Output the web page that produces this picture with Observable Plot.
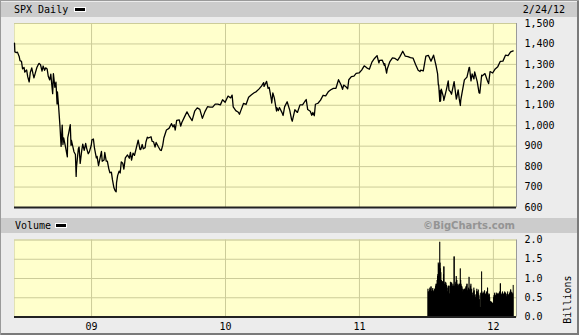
<!DOCTYPE html>
<html>
<head>
<meta charset="utf-8">
<script src="https://cdn.jsdelivr.net/npm/d3@7"></script>
<script src="https://cdn.jsdelivr.net/npm/@observablehq/plot@0.6"></script>
<style>
  html, body { margin: 0; padding: 0; background: #ececec; }
  #wrap { position: relative; width: 579px; height: 335px; background: #ececec; overflow: hidden;
          box-shadow: inset 1px 1px 0 #9a9a9a, inset -2px -2px 0 #7a7a7a; font-family: "DejaVu Sans Mono", monospace; }
  .band { position: absolute; left: 1px; width: 576px; height: 15px; background: #cccccc; line-height: 15px; font-size: 10px; color: #000; }
  .swatch { position: absolute; width: 10px; height: 3px; background: #000; border: 1px solid #fff; }
  .abs { position: absolute; }
</style>
</head>
<body>
<div id="wrap">
  <div class="band" style="top:2px;">
    <span class="abs" style="left:13px;">SPX Daily</span>
    <span class="swatch" style="left:73px; top:5px;"></span>
    <span class="abs" style="right:12px;">2/24/12</span>
  </div>
  <div class="band" style="top:218px;">
    <span class="abs" style="left:14px;">Volume</span>
    <span class="swatch" style="left:54px; top:5px;"></span>
    <span class="abs" style="right:62px; font-family:'DejaVu Sans'; font-weight:bold; color:#949494; font-size:10px;">©BigCharts.com</span>
  </div>
  <div id="price" class="abs" style="left:0; top:0;"></div>
  <div id="volume" class="abs" style="left:0; top:230px;"></div>
</div>
<script>
// ---- data ----
const xStart = "2008-06-05";
const xEnd = "2012-03-04";
const yearTicks = ["2009-01-01", "2010-01-01", "2011-01-01", "2012-01-01"];
const priceTicks = [600, 700, 800, 900, 1000, 1100, 1200, 1300, 1400, 1500];
const volumeTicks = [0, 0.5, 1.0, 1.5, 2.0];

const priceDates = [
"2008-06-05","2008-06-06","2008-06-10","2008-06-13","2008-06-18","2008-06-20","2008-06-24","2008-06-27",
"2008-07-01","2008-07-03","2008-07-08","2008-07-11","2008-07-15","2008-07-18","2008-07-22","2008-07-25","2008-07-28",
"2008-08-01","2008-08-05","2008-08-08","2008-08-11","2008-08-15","2008-08-19","2008-08-22","2008-08-26","2008-08-29",
"2008-09-02","2008-09-05","2008-09-09","2008-09-12","2008-09-15","2008-09-17","2008-09-19","2008-09-23","2008-09-26","2008-09-29","2008-09-30",
"2008-10-03","2008-10-07","2008-10-10","2008-10-13","2008-10-15","2008-10-17","2008-10-22","2008-10-24","2008-10-27","2008-10-28","2008-10-31",
"2008-11-04","2008-11-06","2008-11-07","2008-11-11","2008-11-14","2008-11-18","2008-11-20","2008-11-21","2008-11-26","2008-11-28",
"2008-12-01","2008-12-05","2008-12-08","2008-12-12","2008-12-16","2008-12-19","2008-12-23","2008-12-26","2008-12-31",
"2009-01-02","2009-01-06","2009-01-09","2009-01-14","2009-01-16","2009-01-20","2009-01-23","2009-01-28","2009-01-30",
"2009-02-04","2009-02-06","2009-02-10","2009-02-13","2009-02-17","2009-02-20","2009-02-24","2009-02-27",
"2009-03-03","2009-03-06","2009-03-09","2009-03-10","2009-03-13","2009-03-17","2009-03-20","2009-03-23","2009-03-27","2009-03-30",
"2009-04-03","2009-04-09","2009-04-14","2009-04-17","2009-04-20","2009-04-24","2009-04-28",
"2009-05-01","2009-05-08","2009-05-13","2009-05-15","2009-05-19","2009-05-22","2009-05-27","2009-05-29",
"2009-06-02","2009-06-05","2009-06-12","2009-06-15","2009-06-19","2009-06-23","2009-06-26",
"2009-07-02","2009-07-07","2009-07-10","2009-07-14","2009-07-17","2009-07-24","2009-07-31",
"2009-08-07","2009-08-11","2009-08-14","2009-08-17","2009-08-21","2009-08-28",
"2009-09-01","2009-09-04","2009-09-11","2009-09-18","2009-09-25",
"2009-10-02","2009-10-09","2009-10-16","2009-10-23","2009-10-30",
"2009-11-06","2009-11-13","2009-11-20","2009-11-27",
"2009-12-04","2009-12-11","2009-12-18","2009-12-24","2009-12-31",
"2010-01-08","2010-01-15","2010-01-19","2010-01-22","2010-01-29",
"2010-02-05","2010-02-08","2010-02-12","2010-02-19","2010-02-26",
"2010-03-05","2010-03-12","2010-03-19","2010-03-26",
"2010-04-02","2010-04-09","2010-04-15","2010-04-16","2010-04-23","2010-04-27","2010-04-30",
"2010-05-06","2010-05-07","2010-05-10","2010-05-14","2010-05-20","2010-05-21","2010-05-25","2010-05-28",
"2010-06-04","2010-06-07","2010-06-11","2010-06-18","2010-06-25","2010-06-30",
"2010-07-02","2010-07-09","2010-07-16","2010-07-23","2010-07-30",
"2010-08-06","2010-08-09","2010-08-13","2010-08-20","2010-08-24","2010-08-27","2010-08-31",
"2010-09-03","2010-09-10","2010-09-17","2010-09-24",
"2010-10-01","2010-10-08","2010-10-15","2010-10-22","2010-10-29",
"2010-11-05","2010-11-12","2010-11-16","2010-11-19","2010-11-26","2010-11-30",
"2010-12-03","2010-12-10","2010-12-17","2010-12-23","2010-12-31",
"2011-01-07","2011-01-14","2011-01-21","2011-01-28",
"2011-02-04","2011-02-11","2011-02-18","2011-02-23","2011-02-25",
"2011-03-04","2011-03-10","2011-03-11","2011-03-16","2011-03-18","2011-03-25",
"2011-04-01","2011-04-08","2011-04-15","2011-04-21","2011-04-29",
"2011-05-06","2011-05-13","2011-05-20","2011-05-27",
"2011-06-03","2011-06-10","2011-06-15","2011-06-17","2011-06-24",
"2011-07-01","2011-07-08","2011-07-15","2011-07-22","2011-07-29",
"2011-08-02","2011-08-04","2011-08-05","2011-08-08","2011-08-09","2011-08-10","2011-08-12","2011-08-18","2011-08-19","2011-08-26","2011-08-31",
"2011-09-02","2011-09-06","2011-09-09","2011-09-16","2011-09-22","2011-09-23","2011-09-27","2011-09-30",
"2011-10-03","2011-10-04","2011-10-07","2011-10-14","2011-10-21","2011-10-27","2011-10-28",
"2011-11-01","2011-11-04","2011-11-09","2011-11-11","2011-11-18","2011-11-23","2011-11-25","2011-11-30",
"2011-12-02","2011-12-09","2011-12-16","2011-12-19","2011-12-23","2011-12-30",
"2012-01-06","2012-01-13","2012-01-20","2012-01-27",
"2012-02-03","2012-02-10","2012-02-17","2012-02-24"
];
const priceCloses = [
1404,1361,1358,1360,1337,1318,1315,1278,
1285,1262,1273,1240,1214,1260,1283,1257,1234,
1260,1285,1296,1305,1298,1267,1292,1271,1283,
1277,1242,1224,1252,1193,1157,1255,1188,1213,1106,1166,
1099,996,899,1003,908,940,896,877,848,941,968,
1005,904,930,898,873,859,752,800,887,896,
816,876,910,879,913,887,863,872,903,
931,935,890,843,850,805,832,874,826,
832,869,827,827,789,770,773,735,
696,683,677,720,756,778,769,823,816,788,
843,857,841,870,832,866,855,
877,929,884,883,908,887,893,919,
944,940,946,924,921,895,918,
897,881,879,905,940,979,987,
1010,994,1005,979,1026,1029,
998,1016,1042,1068,1044,
1025,1071,1087,1080,1036,
1069,1093,1091,1091,
1106,1106,1102,1127,1115,
1145,1136,1150,1092,1074,
1066,1056,1075,1109,1104,
1139,1150,1160,1167,
1179,1194,1211,1192,1217,1183,1187,
1128,1111,1160,1136,1072,1088,1074,1089,
1064,1050,1092,1117,1076,1031,
1022,1078,1065,1102,1102,
1121,1128,1079,1071,1051,1065,1049,
1105,1110,1125,1149,
1146,1166,1176,1183,1183,
1225,1199,1178,1199,1189,1181,
1225,1240,1243,1256,1258,
1272,1293,1283,1276,
1311,1329,1343,1307,1320,
1321,1295,1304,1257,1279,1314,
1332,1329,1320,1337,1364,
1340,1338,1333,1331,
1300,1271,1265,1272,1268,
1340,1344,1316,1345,1292,
1254,1200,1199,1119,1172,1121,1179,1140,1124,1177,1219,
1174,1166,1154,1216,1130,1136,1175,1131,
1099,1124,1155,1224,1238,1285,1285,
1219,1253,1229,1263,1216,1161,1159,1247,
1244,1255,1219,1206,1265,1258,
1278,1289,1315,1316,
1345,1343,1361,1366
];

// daily volume (billions), one value per weekday from volStart to volEnd
const volStart = "2011-07-07";
const volEnd = "2012-02-24";
const volValues = [
// Jul
0.72,0.65,0.68,0.75,0.70,0.72,0.78,0.66,0.70,0.74,0.68,0.65,0.72,0.70,0.75,0.80,0.85,
// Aug
0.95,1.05,1.10,1.40,1.35,1.94,1.40,1.25,1.15,0.95,0.90,0.92,0.88,1.10,1.30,0.85,0.90,0.85,0.88,0.82,0.65,0.75,0.80,
// Sep
0.78,0.80,0.60,0.90,0.85,0.82,0.88,0.80,0.85,0.78,0.80,1.56,0.80,0.85,0.90,1.05,0.95,0.85,0.80,0.75,0.82,0.85,
// Oct
1.25,0.95,0.85,0.80,0.78,0.72,0.65,0.70,0.68,0.72,0.70,0.78,0.74,0.80,0.85,0.68,0.72,0.75,1.03,0.70,0.80,
// Nov
0.85,0.70,0.72,0.62,0.55,0.65,0.75,0.68,0.55,0.50,0.58,0.65,0.72,0.65,0.70,0.60,0.55,0.45,0.25,0.62,0.60,1.17,
// Dec
0.65,0.60,0.62,0.58,0.65,0.68,0.60,0.58,0.65,0.62,0.58,0.75,0.55,0.60,0.58,0.50,0.40,0.38,0.38,0.38,0.35,0.35,
// Jan
0.50,0.55,0.60,0.62,0.55,0.58,0.62,0.55,0.60,0.58,0.60,0.62,0.65,0.60,0.86,0.58,0.55,0.62,0.65,0.58,0.60,0.62,
// Feb
0.65,0.58,0.62,0.52,0.58,0.60,0.65,0.58,0.55,0.60,0.62,0.65,0.70,0.64,0.62,0.58,0.60,0.82
];

// ---- build ----
const xDomain = [new Date(xStart), new Date(xEnd)];
const years = yearTicks.map(d => new Date(d));
const priceData = priceDates.map((d, i) => ({date: new Date(d), close: priceCloses[i]}));
const volDays = d3.utcDay.range(new Date(volStart), d3.utcDay.offset(new Date(volEnd), 1))
  .filter(d => d.getUTCDay() !== 0 && d.getUTCDay() !== 6);
const volData = volDays.map((d, i) => ({date: d, v: volValues[i] ?? 0}));

const gridColor = "#cccc99";
const plotBg = "#ffffcc";
const baseStyle = {background: "transparent", fontFamily: "DejaVu Sans Mono", fontSize: "10px", color: "#000", overflow: "visible"};

const price = Plot.plot({
  width: 579, height: 210,
  marginLeft: 14, marginRight: 63, marginTop: 23, marginBottom: 3,
  style: baseStyle,
  x: {type: "utc", domain: xDomain, axis: null},
  y: {domain: [600, 1500], axis: "right", ticks: priceTicks, tickFormat: d3.format(","), tickSize: 0, tickPadding: 8, label: null},
  marks: [
    Plot.frame({fill: plotBg, stroke: "#e2e2b4"}),
    Plot.gridY(priceTicks, {stroke: gridColor, strokeOpacity: 1}),
    Plot.gridX(years, {stroke: gridColor, strokeOpacity: 1}),
    Plot.ruleX([xDomain[1]], {stroke: "#9a9a9a"}),
    Plot.ruleY([600], {stroke: "#222", strokeWidth: 2}),
    Plot.line(priceData, {x: "date", y: "close", stroke: "#000", strokeWidth: 1.3})
  ]
});
document.getElementById("price").append(price);

const volume = Plot.plot({
  width: 579, height: 105,
  marginLeft: 14, marginRight: 63, marginTop: 9.5, marginBottom: 18.5,
  style: baseStyle,
  x: {type: "utc", domain: xDomain, ticks: years, tickFormat: d3.utcFormat("%y"), tickSize: 0, tickPadding: 6, label: null},
  y: {domain: [0, 2], axis: "right", ticks: volumeTicks, tickFormat: d3.format(".1f"), tickSize: 0, tickPadding: 8, label: null},
  marks: [
    Plot.frame({fill: plotBg, stroke: "#e2e2b4"}),
    Plot.gridY(volumeTicks, {stroke: gridColor, strokeOpacity: 1}),
    Plot.gridX(years, {stroke: gridColor, strokeOpacity: 1}),
    Plot.areaY(volData, {x: "date", y: "v", curve: "step-after", fill: "#000"}),
    Plot.ruleX(volData, {x: "date", y1: 0, y2: "v", stroke: "#000", strokeWidth: 1}),
    Plot.ruleX([xDomain[1]], {stroke: "#9a9a9a"}),
    Plot.ruleY([0], {stroke: "#222", strokeWidth: 2}),
    Plot.text(["Billions"], {text: d => d, frameAnchor: "right", dx: 51, dy: -3, rotate: -90, fontSize: 10, fill: "#000"})
  ]
});
document.getElementById("volume").append(volume);
</script>
</body>
</html>
